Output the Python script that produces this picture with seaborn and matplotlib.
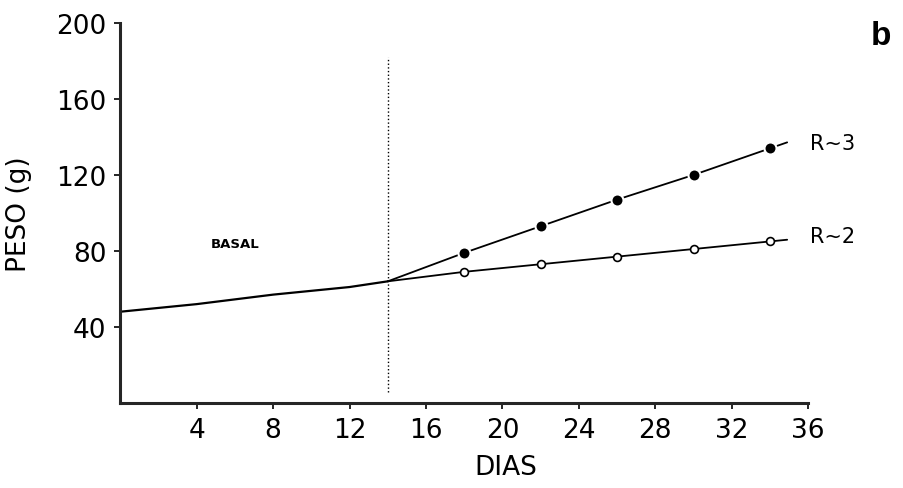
import numpy as np
import pandas as pd
import matplotlib
matplotlib.use("Agg")
import matplotlib.pyplot as plt
import seaborn as sns

# values
basal_days = [0, 4, 8, 12, 14]
basal_peso = [48, 52, 57, 61, 64]

trat_days = [18, 22, 26, 30, 34]
r3_peso = [79, 93, 107, 120, 134]
r2_peso = [69, 73, 77, 81, 85]

x_ticks = [4, 8, 12, 16, 20, 24, 28, 32, 36]
y_ticks = [40, 80, 120, 160, 200]

sns.set_style("ticks")
plt.rcParams['font.family'] = ['DejaVu Sans']
plt.rcParams['text.color'] = 'black'
plt.rcParams['axes.labelcolor'] = 'black'
plt.rcParams['xtick.color'] = 'black'
plt.rcParams['ytick.color'] = 'black'

basal = pd.DataFrame({'dia': basal_days, 'peso': basal_peso})
# the treatments start from the last basal point
r3 = pd.DataFrame({'dia': [basal_days[-1]] + trat_days, 'peso': [basal_peso[-1]] + r3_peso})
r2 = pd.DataFrame({'dia': [basal_days[-1]] + trat_days, 'peso': [basal_peso[-1]] + r2_peso})

fig = plt.figure(figsize=(9.04, 4.89), dpi=100)
ax = fig.add_axes([0.133, 0.174, 0.761, 0.777])

sns.lineplot(data=basal, x='dia', y='peso', color='black', lw=1.6, ax=ax)
sns.lineplot(data=r3, x='dia', y='peso', color='black', lw=1.3, ax=ax)
sns.lineplot(data=r2, x='dia', y='peso', color='black', lw=1.3, ax=ax)

# short tail after the last point of each series
for df in (r3, r2):
    d = df['dia'].values
    p = df['peso'].values
    slope = (p[-1] - p[-2]) / (d[-1] - d[-2])
    ax.plot([d[-1], d[-1] + 0.9], [p[-1], p[-1] + 0.9 * slope], color='black', lw=1.3)

sns.scatterplot(x=trat_days, y=r3_peso, color='black', s=75, edgecolor='white',
                linewidth=1.5, zorder=5, ax=ax)
sns.scatterplot(x=trat_days, y=r2_peso, facecolor='white', edgecolor='black',
                s=32, linewidth=1.2, zorder=5, ax=ax)

ax.axvline(basal_days[-1], ymin=0.03, ymax=0.91, color='black', ls=':', lw=1)

ax.text(36.1, r3_peso[-1] + 3, 'R~3', fontsize=15, va='center', ha='left')
ax.text(36.1, r2_peso[-1] + 3, 'R~2', fontsize=15, va='center', ha='left')
ax.text(6.0, 84, 'BASAL', fontsize=9.5, fontweight='bold', ha='center', va='center')
fig.text(0.975, 0.925, 'b', fontsize=24, fontweight='bold', ha='center', va='center',
         family='Liberation Sans')

ax.set_xlim(0, 36)
ax.set_ylim(0, 200)
ax.set_xticks(x_ticks)
ax.set_yticks(y_ticks)
ax.tick_params(labelsize=19, length=4, width=1.2, direction='out', pad=6)
ax.set_xlabel('DIAS', fontsize=19)
ax.set_ylabel('PESO (g)', fontsize=19)
ax.xaxis.set_label_coords(0.56, -0.135)
ax.yaxis.set_label_coords(-0.128, 0.5)
for s in ('top', 'right'):
    ax.spines[s].set_visible(False)
for s in ('left', 'bottom'):
    ax.spines[s].set_linewidth(2.2)

fig.savefig('out.png', dpi=100)
